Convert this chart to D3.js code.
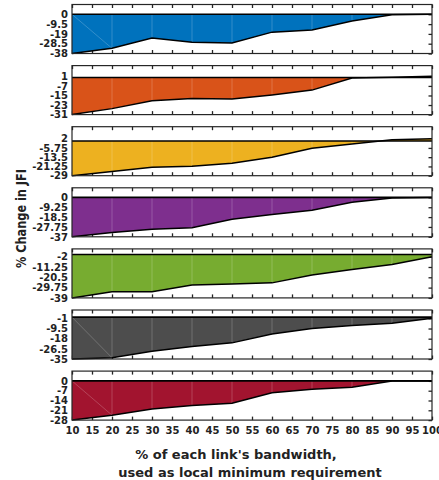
<!DOCTYPE html>
<html><head><meta charset="utf-8">
<script src="https://cdn.jsdelivr.net/npm/d3@7"></script>
<style>
body{margin:0;background:#fff;}
svg{display:block;font-family:"DejaVu Sans",Arial,Helvetica,sans-serif;}
</style></head>
<body><svg id="chart" width="439" height="480"></svg>
<script>
// ---- data ----
const xValues = [10,20,30,40,50,60,70,80,90,100];
const xTicks = [10,15,20,25,30,35,40,45,50,55,60,65,70,75,80,85,90,95,100];
const blueSeries    = [-38,-33,-23,-27,-27.7,-17.3,-15.3,-6.5,-0.4,0];
const orangeSeries  = [-31,-26,-19.5,-17.5,-18,-14.5,-10.5,-0.3,0.3,1];
const yellowSeries  = [-29,-25.5,-22,-21,-18.5,-13.5,-6,-2.5,1,2];
const purpleSeries  = [-37,-33,-30,-28.5,-20.5,-16,-12,-4.5,-0.5,0];
const greenSeries   = [-39,-33.5,-33.5,-27.5,-26.5,-25.5,-18.5,-13.5,-9,-2];
const greySeries    = [-35,-34,-28.5,-24.5,-21.5,-14,-9.5,-7,-5,-1];
const crimsonSeries = [-28,-24.5,-20,-17.5,-16,-8.5,-6,-4.5,0,0];
const yTickLabels = [
  ["0","-9.5","-19","-28.5","-38"],
  ["1","-7","-15","-23","-31"],
  ["2","-5.75","-13.5","-21.25","-29"],
  ["0","-9.25","-18.5","-27.75","-37"],
  ["-2","-11.25","-20.5","-29.75","-39"],
  ["-1","-9.5","-18","-26.5","-35"],
  ["0","-7","-14","-21","-28"]
];
const yLimTop = [9.5, 10, 12, 9, 5, 6, 7];
const xTitleLines = ["% of each link's bandwidth,", "used as local minimum requirement"];
const yTitle = "% Change in JFI";

// ---- style ----
const seriesList = [blueSeries, orangeSeries, yellowSeries, purpleSeries, greenSeries, greySeries, crimsonSeries];
const colors = ["#0072BD","#D95319","#EDB120","#7E2F8E","#77AC30","#4D4D4D","#A2142F"];
const diagonal = [true,false,false,false,false,true,true];

const svg = d3.select("#chart");
const left = 72, right = 432, top0 = 4.5, pitch = 61.1, ph = 49;
const axisColor = "#262626", textColor = "#222";
const x = d3.scaleLinear().domain([10,100]).range([left,right]);

seriesList.forEach((vals, i) => {
  const top = top0 + i*pitch, bottom = top + ph;
  const ticks = yTickLabels[i].map(Number);
  const yMin = d3.min(ticks);
  const y = d3.scaleLinear().domain([yMin, yLimTop[i]]).range([bottom, top]);
  const data = xValues.map((xv, k) => ({x: xv, v: vals[k]}));
  const g = svg.append("g");

  const topAx = d3.axisTop(x).tickValues(xTicks).tickSizeInner(-3.5).tickSizeOuter(0).tickFormat("");
  const botAx = d3.axisBottom(x).tickValues(xTicks).tickSizeInner(-3.5).tickSizeOuter(0).tickPadding(7.3)
    .tickFormat(i === seriesList.length-1 ? d3.format("d") : "");
  const rightAx = d3.axisRight(y).tickValues(ticks).tickSizeInner(-3.5).tickSizeOuter(0).tickFormat("");
  const leftAx = d3.axisLeft(y).tickValues(ticks).tickSizeInner(0).tickSizeOuter(0).tickPadding(4)
    .tickFormat((d, k) => yTickLabels[i][k]);

  const gt = g.append("g").attr("transform", `translate(0,${top})`).call(topAx);
  const gb = g.append("g").attr("transform", `translate(0,${bottom})`).call(botAx);
  const gr = g.append("g").attr("transform", `translate(${right},0)`).call(rightAx);
  const gl = g.append("g").attr("transform", `translate(${left},0)`).call(leftAx);
  [gt,gb,gr,gl].forEach(a => {
    a.select(".domain").remove();
    a.selectAll("line").attr("stroke", axisColor).attr("stroke-width", 1.3);
    a.selectAll("text").attr("fill", textColor).attr("font-size", 10).attr("font-weight", "bold")
      .attr("font-family", "DejaVu Sans");
  });

  const area = d3.area().x(d => x(d.x)).y0(y(0)).y1(d => y(d.v));
  g.append("path").datum(data).attr("d", area).attr("fill", colors[i]);

  g.selectAll("line.edge").data(data.slice(1, -1)).join("line").attr("class","edge")
    .attr("x1", d => x(d.x)).attr("x2", d => x(d.x))
    .attr("y1", y(0)).attr("y2", d => y(d.v))
    .attr("stroke", "#fff").attr("stroke-opacity", 0.25).attr("stroke-width", 0.8);
  if (diagonal[i]) {
    g.append("line").attr("x1", x(data[0].x)).attr("y1", y(0))
      .attr("x2", x(data[1].x)).attr("y2", y(data[1].v))
      .attr("stroke", "#fff").attr("stroke-opacity", 0.25).attr("stroke-width", 0.8);
  }

  g.append("line").attr("x1", left).attr("x2", right).attr("y1", y(0)).attr("y2", y(0))
    .attr("stroke", "#000").attr("stroke-width", 1.6);
  g.append("path").datum(data).attr("d", d3.line().x(d => x(d.x)).y(d => y(d.v)))
    .attr("fill", "none").attr("stroke", "#000").attr("stroke-width", 1.5);

  g.append("rect").attr("x", left).attr("y", top).attr("width", right-left).attr("height", ph)
    .attr("fill", "none").attr("stroke", axisColor).attr("stroke-width", 1.2);
});

svg.append("text").attr("x", 236).attr("y", 458.5).attr("text-anchor","middle")
  .attr("font-size", 13).attr("font-weight","bold").attr("fill",textColor).text(xTitleLines[0]);
svg.append("text").attr("x", 250).attr("y", 476.5).attr("text-anchor","middle")
  .attr("font-size", 13).attr("font-weight","bold").attr("fill",textColor).text(xTitleLines[1]);
svg.append("text").attr("transform","translate(25.5,218.5) rotate(-90)").attr("text-anchor","middle")
  .attr("font-size", 14).attr("font-weight","bold").attr("fill",textColor)
  .attr("textLength", 99).attr("lengthAdjust","spacingAndGlyphs").text(yTitle);
</script></body></html>
